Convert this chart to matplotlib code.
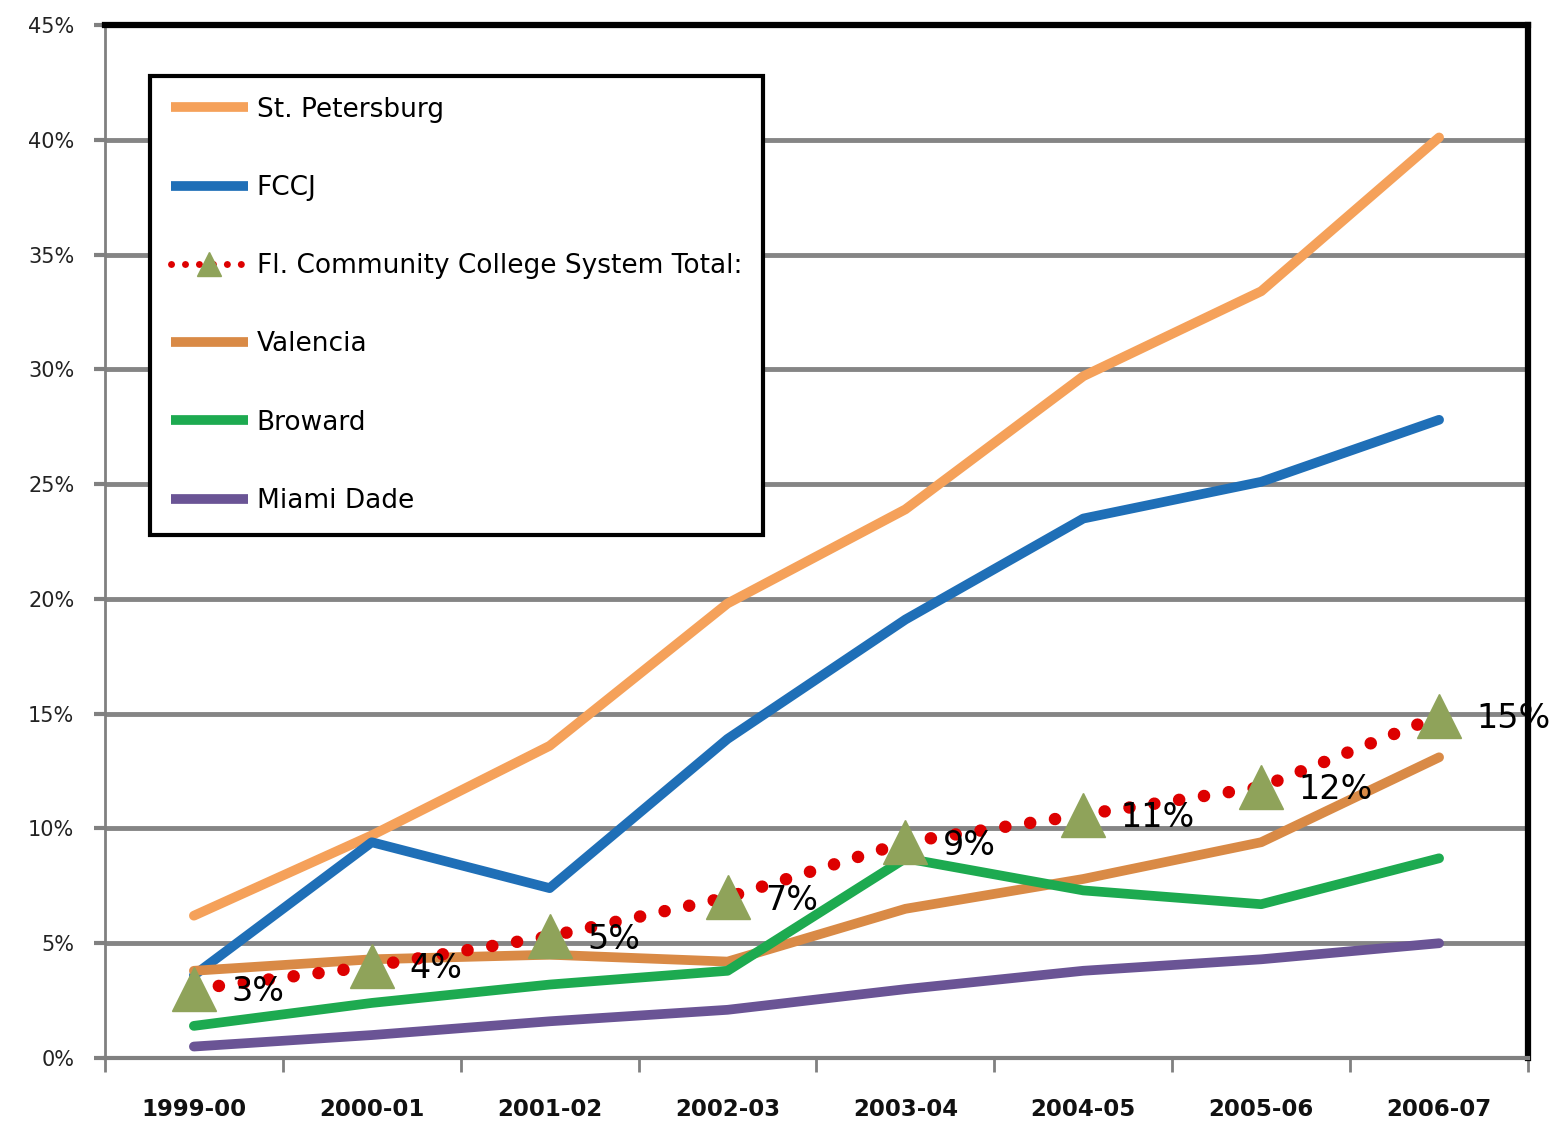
import matplotlib.pyplot as plt
from matplotlib.lines import Line2D
import numpy as np

years = ['1999-00', '2000-01', '2001-02', '2002-03', '2003-04', '2004-05', '2005-06', '2006-07']

st_petersburg = [6.2, 9.7, 13.6, 19.8, 23.9, 29.7, 33.4, 40.1]
fccj = [3.6, 9.4, 7.4, 13.9, 19.1, 23.5, 25.1, 27.8]
fl_total = [3.0, 4.0, 5.3, 7.0, 9.4, 10.6, 11.8, 14.9]
fl_labels = ['3%', '4%', '5%', '7%', '9%', '11%', '12%', '15%']
valencia = [3.8, 4.3, 4.5, 4.2, 6.5, 7.8, 9.4, 13.1]
broward = [1.4, 2.4, 3.2, 3.8, 8.7, 7.3, 6.7, 8.7]
miami_dade = [0.5, 1.0, 1.6, 2.1, 3.0, 3.8, 4.3, 5.0]

plt.rcParams['font.family'] = ['DejaVu Sans']

fig = plt.figure(figsize=(15.64, 11.24), dpi=100)
ax = fig.add_axes([0.0671, 0.0587, 0.9099, 0.9191])

x = np.arange(len(years))
lw = 7

series = [
    ('St. Petersburg', st_petersburg, '#F5A15A'),
    ('FCCJ', fccj, '#1F6FB7'),
    ('Valencia', valencia, '#D98A46'),
    ('Broward', broward, '#1DAA50'),
    ('Miami Dade', miami_dade, '#6A5495'),
]
for name, vals, col in series:
    ax.plot(x, vals, color=col, lw=lw, solid_capstyle='round', zorder=3)

ax.plot(x, fl_total, color='#DD0000', lw=9, linestyle=(0, (0.01, 2.0)),
        dash_capstyle='round', marker='^', markersize=31,
        markerfacecolor='#8FA35A', markeredgecolor='#8FA35A', zorder=5)

for xi, yi, lab in zip(x, fl_total, fl_labels):
    ax.annotate(lab, (xi, yi), xytext=(27, -2), textcoords='offset points',
                ha='left', va='center', fontsize=24, color='black', zorder=6)

ax.set_xlim(-0.5, 7.5)
ax.set_ylim(0, 45)
ax.set_yticks(np.arange(0, 46, 5))
ax.set_yticklabels([f'{v}%' for v in range(0, 46, 5)], fontsize=15, color='#222222')
ax.set_xticks(x)
ax.set_xticklabels(years, fontsize=16.5, fontweight='bold', color='#111111')
ax.set_xticks(np.arange(-0.5, 8, 1), minor=True)
ax.tick_params(axis='x', which='major', length=0, pad=29)
ax.tick_params(axis='x', which='minor', length=10, width=2, color='#808080', direction='out')
ax.tick_params(axis='y', length=8, width=3, color='#808080', pad=14)

ax.grid(axis='y', color='#858585', lw=3.5, zorder=1)
ax.set_axisbelow(True)

ax.spines['left'].set_color('#808080')
ax.spines['left'].set_linewidth(2)
ax.spines['bottom'].set_color('#808080')
ax.spines['bottom'].set_linewidth(3)
ax.spines['top'].set_color('black')
ax.spines['top'].set_linewidth(4.5)
ax.spines['right'].set_color('black')
ax.spines['right'].set_linewidth(4.5)

# legend handles (butt caps, small triangle for the total)
handles = [
    Line2D([], [], color='#F5A15A', lw=lw, solid_capstyle='butt'),
    Line2D([], [], color='#1F6FB7', lw=lw, solid_capstyle='butt'),
    Line2D([], [], color='#DD0000', lw=5, linestyle=(0, (0.01, 2.0)), dash_capstyle='round',
           marker='^', markersize=17, markerfacecolor='#8FA35A', markeredgecolor='#8FA35A'),
    Line2D([], [], color='#D98A46', lw=lw, solid_capstyle='butt'),
    Line2D([], [], color='#1DAA50', lw=lw, solid_capstyle='butt'),
    Line2D([], [], color='#6A5495', lw=lw, solid_capstyle='butt'),
]
labels = ['St. Petersburg', 'FCCJ', 'Fl. Community College System Total:',
          'Valencia', 'Broward', 'Miami Dade']
leg = ax.legend(handles, labels, loc='upper left', bbox_to_anchor=(0.0316, 0.951),
                borderaxespad=0, fontsize=19, labelspacing=1.98, handlelength=2.9,
                handletextpad=0.35, borderpad=0.8, fancybox=False, framealpha=1,
                edgecolor='black')
leg.get_frame().set_linewidth(3)
leg.set_zorder(10)

fig.savefig('out.png', dpi=100)
